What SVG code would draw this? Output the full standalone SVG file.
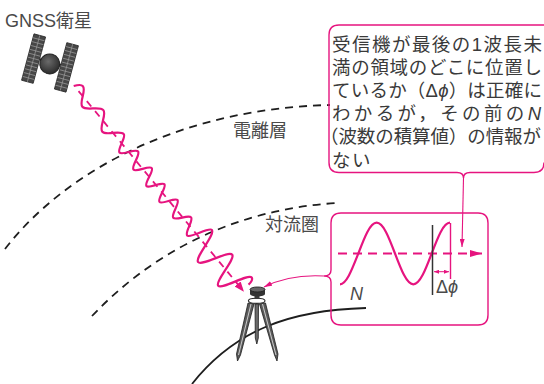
<svg xmlns="http://www.w3.org/2000/svg" width="544" height="384" viewBox="0 0 544 384">
  <style>
    .lbl{font-family:"Liberation Sans","Noto Sans CJK JP",sans-serif;fill:#4a4a4a;font-size:18px}
    .note{font-family:"Liberation Sans","Noto Sans CJK JP",sans-serif;fill:#3a3a3a;font-size:18.5px}
    .layer{fill:none;stroke:#1e1e1e;stroke-width:1.8;stroke-dasharray:8 6}
    .pink{fill:none;stroke:#e6147f}
    .frame{fill:none;stroke:#e6147f;stroke-width:1.4}
    .panel{fill:#474747;stroke:#2a2a2a;stroke-width:0.8}
    .stripe{stroke:#9a9a9a;stroke-width:0.7}
    .leg{fill:#5a5a5a;stroke:#1e1e1e;stroke-width:0.8}
  </style>
  <defs>
    <marker id="sig" viewBox="0 0 10 8" refX="10" refY="4" markerWidth="10" markerHeight="8" markerUnits="userSpaceOnUse" orient="auto">
      <path d="M0 0 L10 4 L0 8 Z" fill="#e6147f"/>
    </marker>
    <marker id="tip" viewBox="0 0 8 5" refX="8" refY="2.5" markerWidth="8" markerHeight="5" markerUnits="userSpaceOnUse" orient="auto">
      <path d="M0 0 L8 2.5 L0 5 Z" fill="#e6147f"/>
    </marker>
    <marker id="axis" viewBox="0 0 12 7" refX="12" refY="3.5" markerWidth="12" markerHeight="7" markerUnits="userSpaceOnUse" orient="auto">
      <path d="M0 0 L12 3.5 L0 7 Z" fill="#e6147f"/>
    </marker>
    <marker id="dim" viewBox="0 0 5 4" refX="5" refY="2" markerWidth="5" markerHeight="4" markerUnits="userSpaceOnUse" orient="auto-start-reverse">
      <path d="M0 0 L5 2 L0 4 Z" fill="#e6147f"/>
    </marker>
    <radialGradient id="body" cx="0.4" cy="0.4" r="0.7">
      <stop offset="0" stop-color="#6a6a6a"/>
      <stop offset="1" stop-color="#242424"/>
    </radialGradient>
  </defs>

  <!-- atmosphere boundaries and ground -->
  <g id="layers">
    <path class="layer" d="M5 249 C70 165 190 108 330 105"/>
    <path class="layer" d="M92 316 C150 255 230 210 336 203"/>
    <path d="M192 384 C235 330 290 310 366 308" fill="none" stroke="#1e1e1e" stroke-width="1.8"/>
  </g>

  <!-- labels -->
  <g id="labels">
    <text class="lbl" x="5" y="27" font-size="19">GNSS衛星</text>
    <text class="lbl" x="233" y="137">電離層</text>
    <text class="lbl" x="265" y="231">対流圏</text>
  </g>

  <!-- satellite -->
  <g id="satellite" transform="translate(50 63) rotate(15)">
    <rect class="panel" x="-23" y="-24" width="12" height="48"/>
    <rect class="panel" x="11" y="-24" width="12" height="48"/>
    <g class="stripe">
      <path d="M-17 -24 V24 M17 -24 V24"/>
      <path d="M-23 -20 H-11 M-23 -16 H-11 M-23 -12 H-11 M-23 -8 H-11 M-23 -4 H-11 M-23 0 H-11 M-23 4 H-11 M-23 8 H-11 M-23 12 H-11 M-23 16 H-11 M-23 20 H-11"/>
      <path d="M11 -20 H23 M11 -16 H23 M11 -12 H23 M11 -8 H23 M11 -4 H23 M11 0 H23 M11 4 H23 M11 8 H23 M11 12 H23 M11 16 H23 M11 20 H23"/>
    </g>
    <path d="M-11 -1 H-8 M8 -1 H11" stroke="#2a2a2a" stroke-width="2"/>
    <circle cx="0" cy="1" r="10" fill="url(#body)" stroke="#222" stroke-width="1"/>
  </g>

  <!-- receiver on tripod -->
  <g id="receiver">
    <polygon class="leg" points="248,303 254,304 240.5,355 237.5,361 236.5,354"/>
    <polygon class="leg" points="259.5,304 265.5,303 278,354 277,361 274.5,355"/>
    <path d="M251 304 L238.5 355 M262.5 304 L276 355" stroke="#d8d8d8" stroke-width="0.9"/>
    <polygon points="255,304 258.5,304 258.3,338 256.8,344 255.3,338" fill="#6a6a6a" stroke="#1e1e1e" stroke-width="0.8"/>
    <ellipse cx="256.7" cy="300.8" rx="8.3" ry="2.6" fill="#fff" stroke="#2a2a2a" stroke-width="1.1"/>
    <rect x="254.5" y="295" width="5" height="4" fill="#3a3a3a"/>
    <path d="M250 289.5 V294 A7.5 2.4 0 0 0 265 294 V289.5 Z" fill="#333"/>
    <ellipse cx="257.5" cy="289.5" rx="7.5" ry="2.5" fill="#666" stroke="#222" stroke-width="0.9"/>
  </g>

  <!-- callout: what the receiver knows -->
  <g id="note">
    <path class="frame" fill="#fff" d="M548 25 H339 Q329 25 329 35 V162.5 Q329 172.5 339 172.5 H457 Q463.5 172.5 463.5 178 Q463.5 172.5 470 172.5 H534 Q544 172.5 544 162.5"/>
    <text class="note" x="332" y="50.5" textLength="210" lengthAdjust="spacing">受信機が最後の1波長未</text>
    <text class="note" x="332" y="73.7" textLength="210" lengthAdjust="spacing">満の領域のどこに位置し</text>
    <text class="note" x="332" y="96.9" textLength="210" lengthAdjust="spacing">ているか（Δ<tspan font-style="italic">ϕ</tspan>）は正確に</text>
    <text class="note" x="332" y="120.1" textLength="209" lengthAdjust="spacing">わかるが，その前の<tspan font-style="italic">N</tspan></text>
    <text class="note" x="320" y="143.3" textLength="221" lengthAdjust="spacing">（波数の積算値）の情報が</text>
    <text class="note" x="332" y="166.5" letter-spacing="1.5">ない</text>
  </g>

  <!-- inset: carrier phase -->
  <g id="inset">
    <path class="frame" d="M341 213 H478 Q488 213 488 223 V315 Q488 325 478 325 H341 Q331 325 331 315 V282 Q331 276 324 276 Q331 276 331 270 V223 Q331 213 341 213 Z"/>
    <path class="pink" stroke-width="2" stroke-dasharray="9 6" d="M338 253.5 H482" marker-end="url(#axis)"/>
    <path class="pink" stroke-width="2.2" d="M340 284.3 C346.63 284.3 352.36 268.52 358.33 253.5 C364.3 237.72 370.03 222.7 376.67 222.7 C383.3 222.7 389.03 237.72 395 253.5 C400.97 269.28 406.7 284.3 413.33 284.3 C419.96 284.3 425.69 269.28 431.67 253.5 C437.64 237.72 443.37 222.7 450 222.7"/>
    <path d="M432.5 225 V295" stroke="#333" stroke-width="1.5"/>
    <path class="pink" stroke-width="1.4" d="M450.5 223 V279"/>
    <path class="pink" stroke-width="1" d="M434 271.7 H449" marker-start="url(#dim)" marker-end="url(#dim)"/>
    <text class="lbl" x="436" y="293" font-size="20">Δ<tspan font-style="italic">ϕ</tspan></text>
    <text class="lbl" x="350" y="300" font-size="20" font-style="italic" fill="#555">N</text>
  </g>

  <!-- connectors -->
  <g id="connectors">
    <!-- signal path: drawn along the local x axis, then turned toward the receiver -->
    <g transform="translate(76 88) rotate(50.5)">
      <path class="pink" stroke-width="1.8" stroke-dasharray="7 6" d="M4 0 H264" marker-end="url(#sig)"/>
      <path class="pink" stroke-width="2.2" stroke-linejoin="round" d="M-3 0.5 C-1 -4 1 -6.5 3 -6.5 C8.63 -6.5 12.87 7 18.5 7 C24.31 7 28.69 -7 34.5 -7 C40.31 -7 44.69 7.5 50.5 7.5 C56.13 7.5 60.37 -7.5 66 -7.5 C70.18 -7.5 73.32 7.5 77.5 7.5 C81.5 7.5 84.5 -7.5 88.5 -7.5 C92.5 -7.5 95.5 7.5 99.5 7.5 C103.32 7.5 106.18 -7.5 110 -7.5 C113.82 -7.5 116.68 8 120.5 8 C124.13 8 126.87 -7 130.5 -7 C134.32 -7 137.18 8 141 8 C144.63 8 147.37 -7 151 -7 C155 -7 158 7.5 162 7.5 C166 7.5 169 -6.5 173 -6.5 C177.18 -6.5 180.32 8 184.5 8 C188.68 8 191.82 -14.5 196 -14.5 C201.81 -14.5 206.19 16.5 212 16.5 C217.81 16.5 222.19 -14.5 228 -14.5 C233.45 -14.5 237.55 16 243 16 C248.45 16 252.55 -15 258 -15 C260 -15 261.5 -11.5 261.5 -8"/>
    </g>
    <path class="pink" stroke-width="1.1" d="M324 276 Q290 274 264 287" marker-end="url(#tip)"/>
    <path class="pink" stroke-width="1.1" d="M463.5 178 L462 247" marker-end="url(#tip)"/>
  </g>
</svg>
